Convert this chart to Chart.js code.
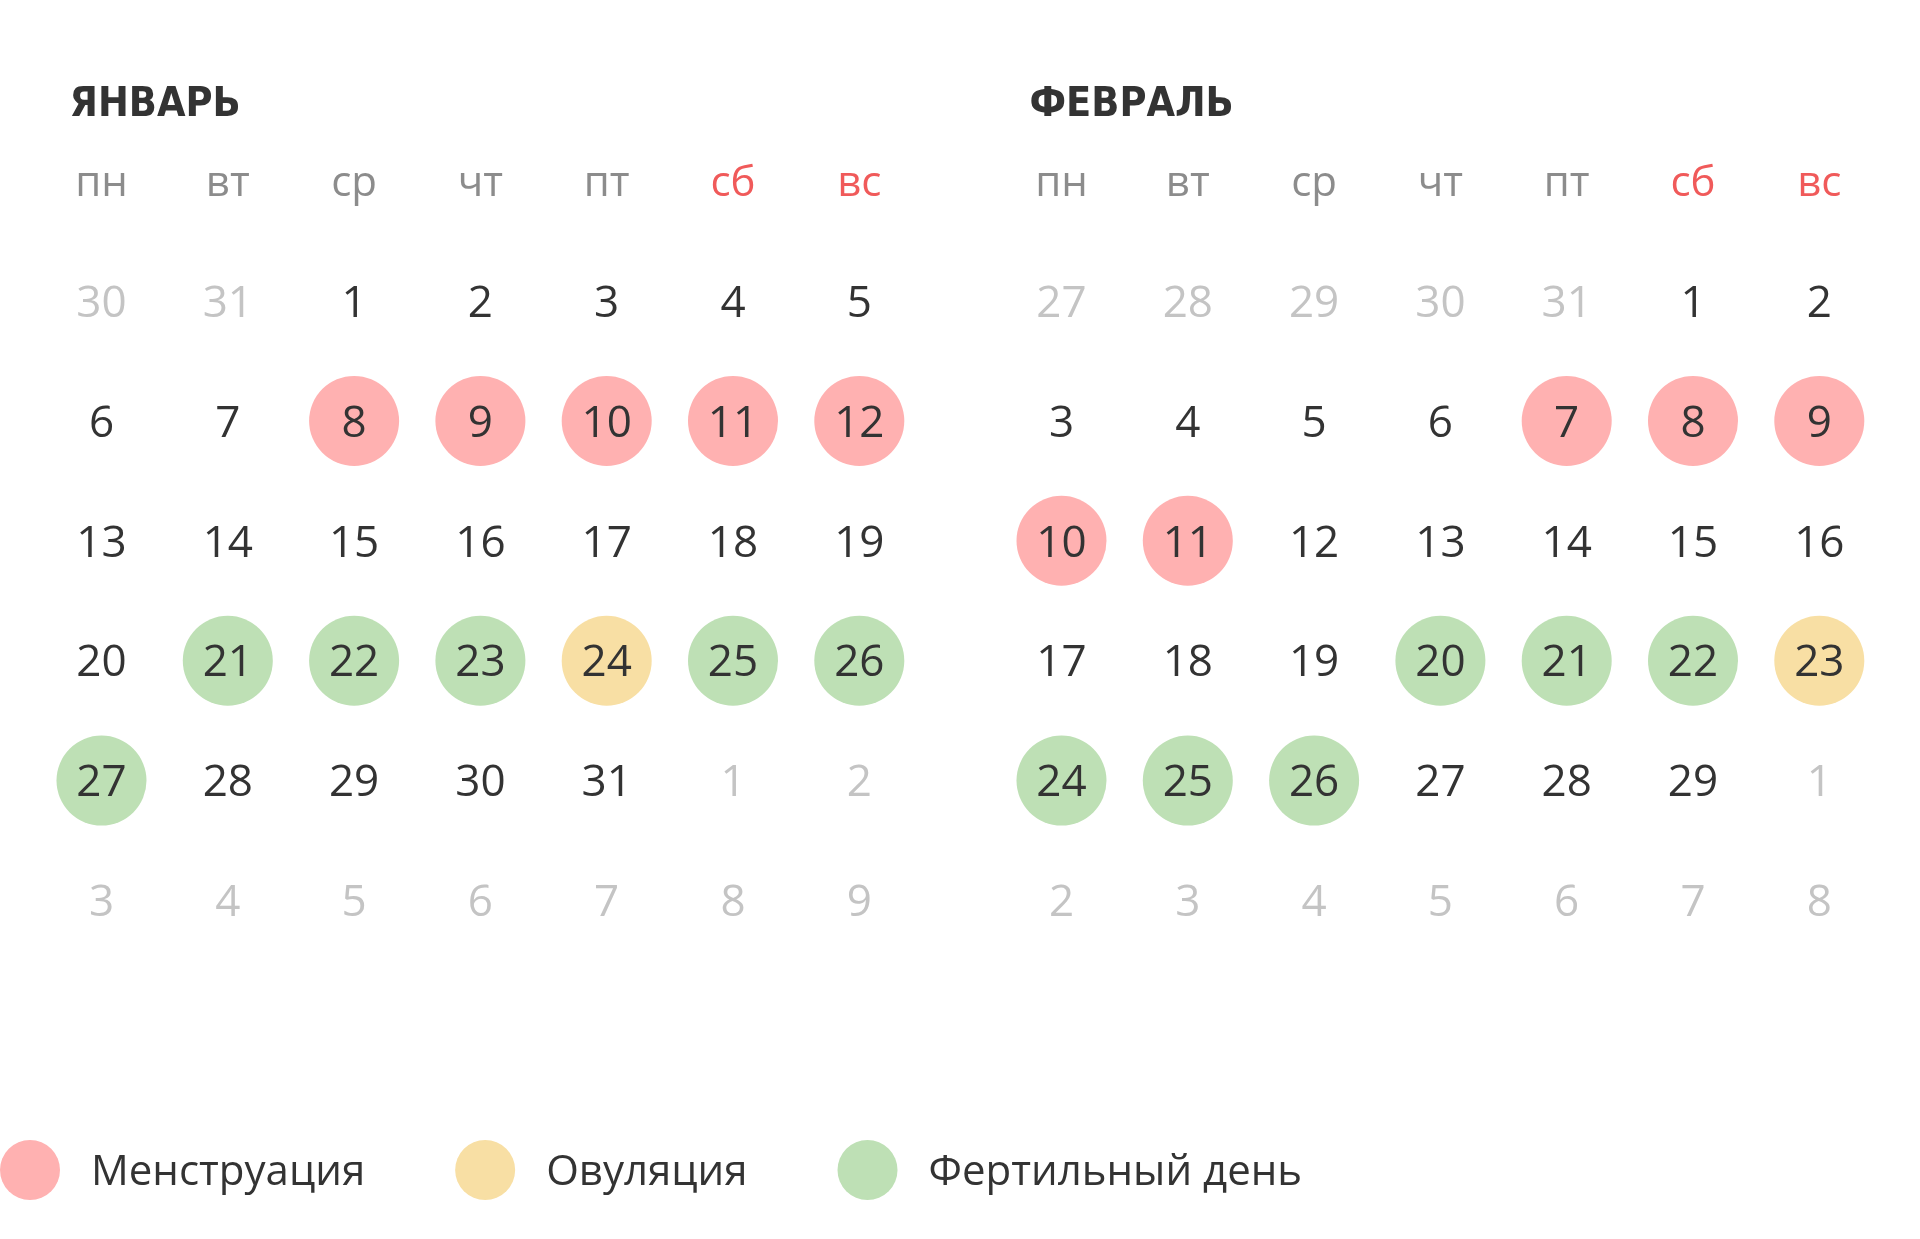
<!DOCTYPE html>
<html>
<head>
<meta charset="utf-8">
<script src="https://cdn.jsdelivr.net/npm/chart.js@4.4.1/dist/chart.umd.min.js"></script>
<style>
  html, body { margin: 0; padding: 0; background: #fff; }
  canvas { display: block; }
</style>
</head>
<body>
<canvas id="calendarChart" width="1920" height="1239"></canvas>
<script>
// months, weekdays and the 6x7 grid of day numbers for each month
const monthNames = ['ЯНВАРЬ', 'ФЕВРАЛЬ'];
const weekdays = ['пн', 'вт', 'ср', 'чт', 'пт', 'сб', 'вс'];
const weekendDays = ['сб', 'вс'];

const janCells = [30, 31, 1, 2, 3, 4, 5, 6, 7, 8, 9, 10, 11, 12, 13, 14, 15, 16, 17, 18, 19,
  20, 21, 22, 23, 24, 25, 26, 27, 28, 29, 30, 31, 1, 2, 3, 4, 5, 6, 7, 8, 9];
const febCells = [27, 28, 29, 30, 31, 1, 2, 3, 4, 5, 6, 7, 8, 9, 10, 11, 12, 13, 14, 15, 16,
  17, 18, 19, 20, 21, 22, 23, 24, 25, 26, 27, 28, 29, 1, 2, 3, 4, 5, 6, 7, 8];
// first and last cell that belong to the month itself
const janRange = [2, 32];
const febRange = [5, 33];

// marked days
const seriesLabels = ['Менструация', 'Овуляция', 'Фертильный день'];
const janMenstruation = [8, 9, 10, 11, 12];
const janOvulation = [24];
const janFertile = [21, 22, 23, 25, 26, 27];
const febMenstruation = [7, 8, 9, 10, 11];
const febOvulation = [23];
const febFertile = [20, 21, 22, 24, 25, 26];

// layout (pixels)
const COL_W = 126.3;
const ROW_H = 119.9;
const MONTH_SHIFT = 960 / COL_W; // second month starts one half of the page later

const months = [
  { name: monthNames[0], cells: janCells, range: janRange },
  { name: monthNames[1], cells: febCells, range: febRange },
];

// turn a day of a month into a grid point {x: column, y: row}
function dayPoint(m, day) {
  const month = months[m];
  const idx = month.cells.indexOf(day, month.range[0]);
  return { x: m * MONTH_SHIFT + (idx % 7), y: Math.floor(idx / 7) };
}

function points(janList, febList) {
  return janList.map(d => dayPoint(0, d)).concat(febList.map(d => dayPoint(1, d)));
}

const colors = ['#ffb1b1', '#f8dfa4', '#bee0b5'];

const data = {
  datasets: [
    { label: seriesLabels[0], data: points(janMenstruation, febMenstruation), backgroundColor: colors[0] },
    { label: seriesLabels[1], data: points(janOvulation, febOvulation), backgroundColor: colors[1] },
    { label: seriesLabels[2], data: points(janFertile, febFertile), backgroundColor: colors[2] },
  ],
};

// draws titles, weekday names, day numbers and the legend
const calendarText = {
  id: 'calendarText',
  afterDatasetsDraw(chart) {
    const ctx = chart.ctx;
    const xs = chart.scales.x;
    const ys = chart.scales.y;
    ctx.save();

    months.forEach((month, m) => {
      const x0 = xs.getPixelForValue(m * MONTH_SHIFT);

      // month title
      ctx.font = 'bold 41px "DejaVu Sans", sans-serif';
      if ('fontStretch' in ctx) ctx.fontStretch = 'condensed';
      ctx.fillStyle = '#333333';
      ctx.textAlign = 'left';
      ctx.textBaseline = 'alphabetic';
      ctx.fillText(month.name, x0 - 32, 116);
      if ('fontStretch' in ctx) ctx.fontStretch = 'normal';

      // weekday header
      ctx.font = '42px "Open Sans", sans-serif';
      ctx.textAlign = 'center';
      weekdays.forEach((w, c) => {
        ctx.fillStyle = weekendDays.includes(w) ? '#f05a5a' : '#8c8c8c';
        ctx.fillText(w, xs.getPixelForValue(m * MONTH_SHIFT + c), ys.getPixelForValue(-0.97) + 11.5);
      });

      // day numbers
      ctx.font = '44px "Open Sans", sans-serif';
      month.cells.forEach((d, i) => {
        const inMonth = i >= month.range[0] && i <= month.range[1];
        ctx.fillStyle = inMonth ? '#333333' : '#c4c4c4';
        const px = xs.getPixelForValue(m * MONTH_SHIFT + (i % 7));
        const py = ys.getPixelForValue(Math.floor(i / 7));
        ctx.fillText(String(d), px, py + 15.7);
      });
    });

    // legend
    ctx.font = '42px "Open Sans", sans-serif';
    ctx.textAlign = 'left';
    let lx = 0;
    const ly = 1170;
    chart.data.datasets.forEach(ds => {
      ctx.fillStyle = ds.backgroundColor;
      ctx.beginPath();
      ctx.arc(lx + 30, ly, 30, 0, Math.PI * 2);
      ctx.fill();
      ctx.fillStyle = '#333333';
      ctx.fillText(ds.label, lx + 91, ly + 15);
      lx += 91 + ctx.measureText(ds.label).width + 90;
    });

    ctx.restore();
  },
};

new Chart(document.getElementById('calendarChart'), {
  type: 'scatter',
  data: data,
  options: {
    responsive: false,
    animation: false,
    devicePixelRatio: 1,
    layout: { padding: 0, autoPadding: false },
    elements: {
      point: { radius: 45, hoverRadius: 45, borderWidth: 0, hoverBorderWidth: 0 },
    },
    plugins: {
      legend: { display: false },
      tooltip: { enabled: false },
    },
    events: [],
    scales: {
      x: { type: 'linear', display: false, min: -101.5 / COL_W, max: (1920 - 101.5) / COL_W },
      y: { type: 'linear', display: false, reverse: true, min: -301 / ROW_H, max: (1239 - 301) / ROW_H },
    },
  },
  plugins: [calendarText],
});
</script>
</body>
</html>
